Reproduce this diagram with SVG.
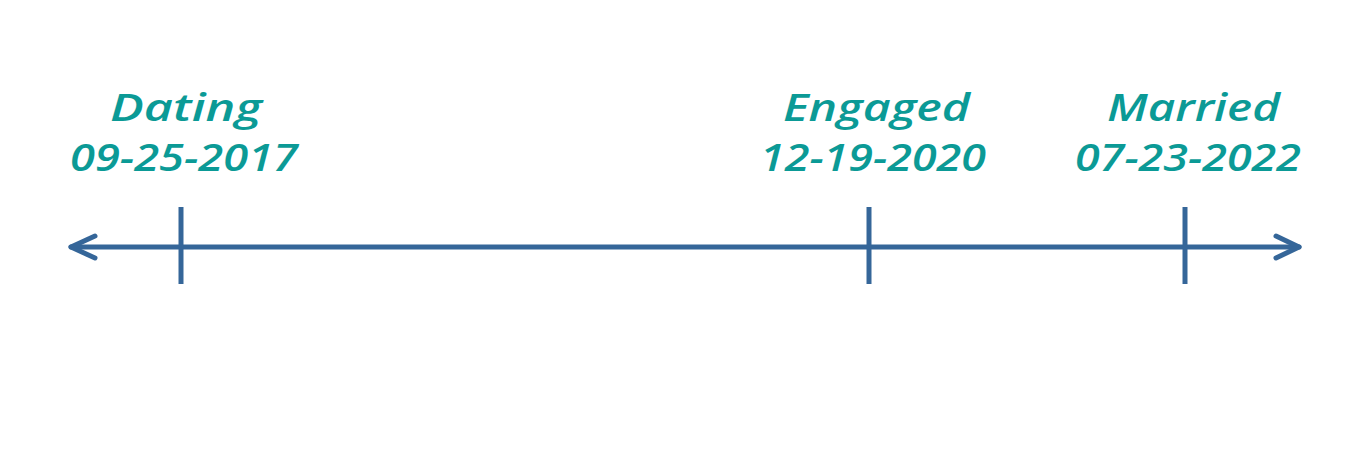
<svg xmlns="http://www.w3.org/2000/svg" width="1363" height="456" viewBox="0 0 1363 456">
<style>
.lbl{font-family:"Open Sans","DejaVu Sans",sans-serif;font-style:italic;font-weight:600;font-size:38px;fill:#0b9a96;}
.axis{stroke:#356699;stroke-width:5;fill:none;stroke-linecap:round;stroke-linejoin:round;}
.tick{stroke:#356699;stroke-width:5;fill:none;}
</style>
<rect width="1363" height="456" fill="#ffffff"/>
<g id="connectors">
<line class="axis" x1="71" y1="247" x2="1299" y2="247"/>
<polyline class="axis" points="95,236 71,247 95,258"/>
<polyline class="axis" points="1276,236 1299,247 1276,258"/>
</g>
<g id="node-dating">
<line class="tick" x1="181" y1="207" x2="181" y2="284"/>
<text class="lbl" x="110" y="121" textLength="152" lengthAdjust="spacingAndGlyphs">Dating</text>
<text class="lbl" x="70" y="171" textLength="228" lengthAdjust="spacingAndGlyphs">09-25-2017</text>
</g>
<g id="node-engaged">
<line class="tick" x1="869" y1="207" x2="869" y2="284"/>
<text class="lbl" x="783" y="121" textLength="187" lengthAdjust="spacingAndGlyphs">Engaged</text>
<text class="lbl" x="760" y="171" textLength="226" lengthAdjust="spacingAndGlyphs">12-19-2020</text>
</g>
<g id="node-married">
<line class="tick" x1="1185" y1="207" x2="1185" y2="284"/>
<text class="lbl" x="1107" y="121" textLength="173" lengthAdjust="spacingAndGlyphs">Married</text>
<text class="lbl" x="1075" y="171" textLength="226" lengthAdjust="spacingAndGlyphs">07-23-2022</text>
</g>
</svg>
